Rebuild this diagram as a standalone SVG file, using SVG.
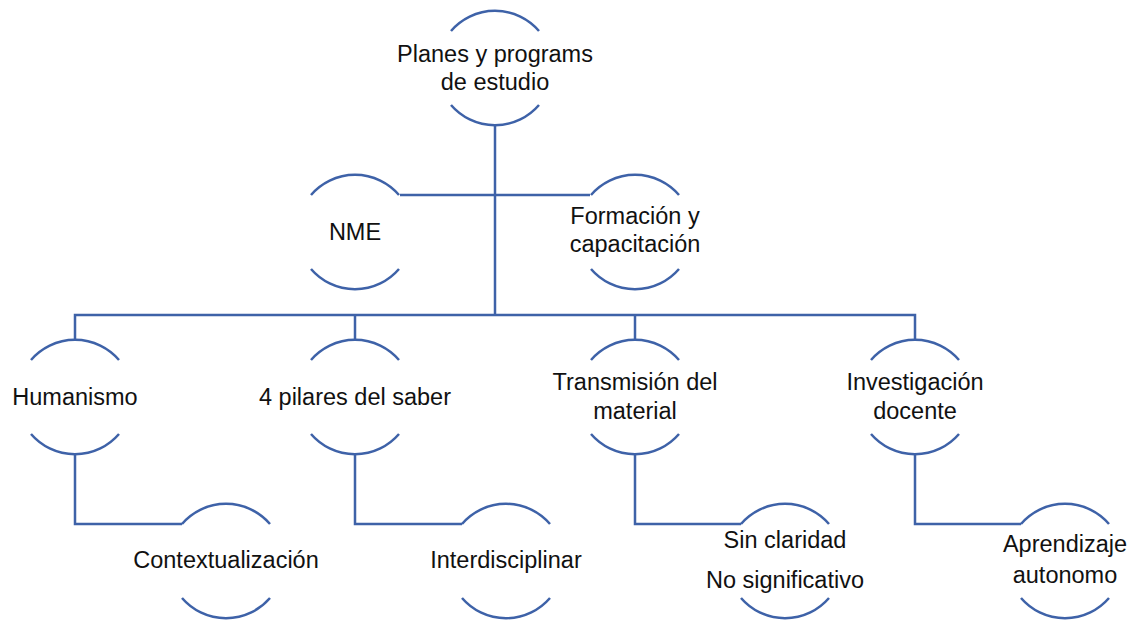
<svg xmlns="http://www.w3.org/2000/svg" width="1134" height="620" viewBox="0 0 1134 620">
<style>
.a{fill:none;stroke:#3E62A8;stroke-width:2.5}
.c{fill:none;stroke:#3E62A8;stroke-width:2.5}
text{font-family:"Liberation Sans",Arial,sans-serif;font-size:23.5px;fill:#111;text-anchor:middle}
</style>
<defs>
<g id="n">
<path class="a" d="M-44,-37 A58,58 0 0 1 44,-37"/>
<path class="a" d="M-44,37 A58,58 0 0 0 44,37"/>
</g>
</defs>
<g id="connectors">
<path class="c" d="M495,126 V315"/>
<path class="c" d="M400,195 H590"/>
<path class="c" d="M75,339 V315 H915 V339"/>
<path class="c" d="M355,315 V339"/>
<path class="c" d="M635,315 V339"/>
<path class="c" d="M75,455 V524 H182"/>
<path class="c" d="M355,455 V524 H462"/>
<path class="c" d="M635,455 V524 H741"/>
<path class="c" d="M915,455 V524 H1021"/>
</g>
<g id="n-planes"><use href="#n" x="495" y="68"/><text x="495" y="62">Planes y programs</text><text x="495" y="90">de estudio</text></g>
<g id="n-nme"><use href="#n" x="355" y="232"/><text x="355" y="240">NME</text></g>
<g id="n-formacion"><use href="#n" x="635" y="232"/><text x="635" y="224">Formación y</text><text x="635" y="252">capacitación</text></g>
<g id="n-humanismo"><use href="#n" x="75" y="397"/><text x="75" y="405">Humanismo</text></g>
<g id="n-pilares"><use href="#n" x="355" y="397"/><text x="355" y="405">4 pilares del saber</text></g>
<g id="n-transmision"><use href="#n" x="635" y="397"/><text x="635" y="390">Transmisión del</text><text x="635" y="419">material</text></g>
<g id="n-investigacion"><use href="#n" x="915" y="397"/><text x="915" y="390">Investigación</text><text x="915" y="419">docente</text></g>
<g id="n-contextualizacion"><use href="#n" x="226" y="561"/><text x="226" y="568">Contextualización</text></g>
<g id="n-interdisciplinar"><use href="#n" x="506" y="561"/><text x="506" y="568">Interdisciplinar</text></g>
<g id="n-sinclaridad"><use href="#n" x="785" y="561"/><text x="785" y="548">Sin claridad</text><text x="785" y="588">No significativo</text></g>
<g id="n-aprendizaje"><use href="#n" x="1065" y="561"/><text x="1065" y="552">Aprendizaje</text><text x="1065" y="583">autonomo</text></g>
</svg>
